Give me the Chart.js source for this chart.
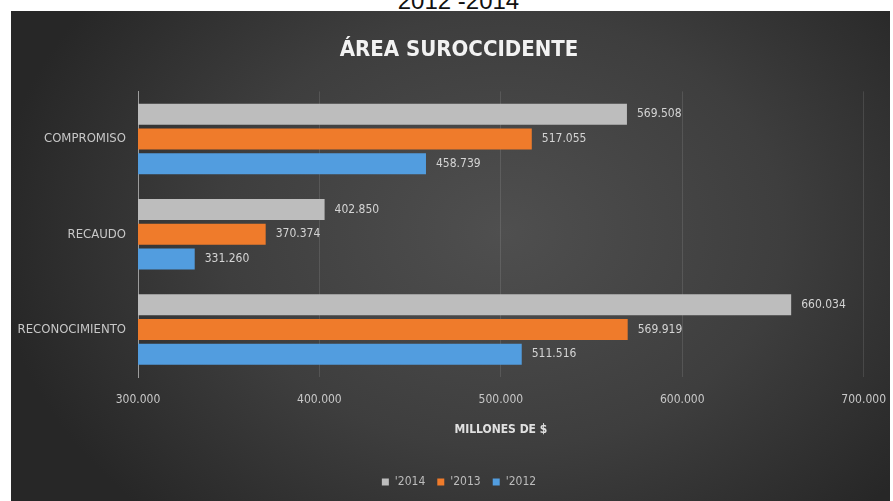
<!DOCTYPE html>
<html>
<head>
<meta charset="utf-8">
<script src="https://cdn.jsdelivr.net/npm/chart.js@4/dist/chart.umd.min.js"></script>
<style>
    html, body { margin: 0; padding: 0; background: #fff; overflow: hidden; }
    #top { position: absolute; left: 12px; width: 893px; top: -11px; line-height: 24px; text-align: center; font-size: 24px; font-family: 'Liberation Sans', Arial, sans-serif; color: #111; }
    #panel {
        position: absolute; left: 11px; top: 11px; width: 879px; height: 490px;
        background: radial-gradient(ellipse 58% 80% at 56% 45%, #4f4f4f 0%, #3e3e3e 55%, #272727 100%);
    }
</style>
</head>
<body>
<div id="top">2012 -2014</div>
<div id="panel"><canvas id="chart" width="879" height="490"></canvas></div>
<script>
const categories = ['COMPROMISO', 'RECAUDO', 'RECONOCIMIENTO'];
const years = ["'2014", "'2013", "'2012"];
const values2014 = [569508, 402850, 660034];
const values2013 = [517055, 370374, 569919];
const values2012 = [458739, 331260, 511516];
const xTicks = [300000, 400000, 500000, 600000, 700000];

const FONT = "'DejaVu Sans Condensed', sans-serif";

function fmt(v) {
    return String(v).replace(/\B(?=(\d{3})+(?!\d))/g, '.');
}

// numbers printed just right of each bar
const valueLabels = {
    id: 'valueLabels',
    afterLayout(chart) {
        // let the long category names run into the left padding instead of being clipped
        chart.scales.y.left = 0;
    },
    afterDatasetsDraw(chart) {
        const ctx = chart.ctx;
        ctx.save();
        ctx.font = '12px ' + FONT;
        ctx.fillStyle = '#d4d4d4';
        ctx.textAlign = 'left';
        ctx.textBaseline = 'middle';
        chart.data.datasets.forEach((ds, i) => {
            chart.getDatasetMeta(i).data.forEach((bar, j) => {
                ctx.fillText(fmt(ds.data[j]), bar.x + 10, bar.y);
            });
        });
        ctx.restore();
    }
};

new Chart(document.getElementById('chart').getContext('2d'), {
    type: 'bar',
    data: {
        labels: categories,
        datasets: [
            { label: years[0], data: values2014, backgroundColor: '#bdbdbd' },
            { label: years[1], data: values2013, backgroundColor: '#ef7b2b' },
            { label: years[2], data: values2012, backgroundColor: '#529ddf' }
        ]
    },
    options: {
        indexAxis: 'y',
        responsive: false,
        animation: false,
        categoryPercentage: 0.78,
        barPercentage: 0.85,
        layout: { padding: { left: 21, right: 4, top: 0, bottom: 3 } },
        plugins: {
            title: {
                display: true,
                text: 'ÁREA SUROCCIDENTE',
                color: '#f2f2f2',
                font: { family: FONT, size: 22, weight: 'bold' },
                padding: { top: 26, bottom: 28 }
            },
            legend: {
                position: 'bottom',
                labels: {
                    color: '#bcbcbc',
                    boxWidth: 7,
                    boxHeight: 7,
                    padding: 12,
                    font: { family: FONT, size: 12 }
                }
            },
            tooltip: { enabled: false }
        },
        scales: {
            x: {
                min: 300000,
                max: 700000,
                afterBuildTicks: (axis) => { axis.ticks = xTicks.map(v => ({ value: v })); },
                grid: { color: 'rgba(255,255,255,0.11)', drawTicks: true, tickLength: 11, tickColor: 'transparent' },
                border: { display: false },
                ticks: {
                    color: '#c8c8c8',
                    padding: 4,
                    font: { family: FONT, size: 12 },
                    callback: (v) => fmt(v)
                },
                title: {
                    display: true,
                    text: 'MILLONES DE $',
                    color: '#e0e0e0',
                    font: { family: FONT, size: 12, weight: 'bold' },
                    padding: { top: 12, bottom: 27 }
                }
            },
            y: {
                afterFit: (axis) => { axis.width = 106; },
                grid: { display: false },
                border: { color: '#9c9c9c' },
                ticks: {
                    color: '#c8c8c8',
                    padding: 4,
                    font: { family: FONT, size: 13 }
                }
            }
        }
    },
    plugins: [valueLabels]
});
</script>
</body>
</html>
